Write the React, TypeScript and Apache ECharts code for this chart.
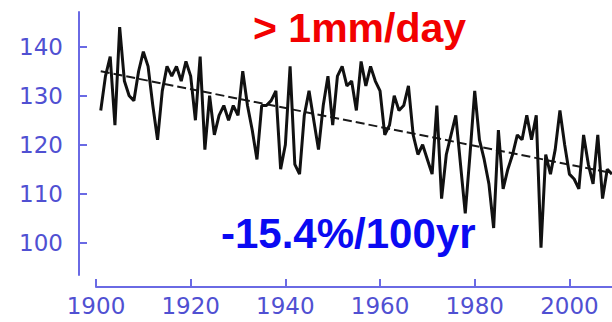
import React, { useEffect, useRef } from "react";
import * as echarts from "echarts";

const startYear = 1901;
const values: number[] = [
  127, 134, 138, 124, 144, 133, 130, 129, 135, 139, // 1901-1910
  136, 128, 121, 131, 136, 134, 136, 133, 137, 134, // 1911-1920
  125, 138, 119, 130, 122, 126, 128, 125, 128, 126, // 1921-1930
  135, 128, 123, 117, 128, 128, 129, 131, 115, 120, // 1931-1940
  136, 116, 114, 126, 131, 125, 119, 128, 134, 124, // 1941-1950
  134, 136, 132, 133, 127, 137, 132, 136, 133, 131, // 1951-1960
  122, 124, 130, 127, 128, 132, 122, 118, 120, 117, // 1961-1970
  114, 128, 109, 118, 122, 126, 116, 106, 118, 131, // 1971-1980
  121, 117, 112, 103, 123, 111, 115, 118, 122, 121, // 1981-1990
  126, 121, 126, 99, 118, 114, 119, 127, 120, 114, // 1991-2000
  113, 111, 122, 116, 112, 122, 109, 115, 114, // 2001-2009
];
const trendYears = [1901, 2009];
const trendValues = [135, 114.2];
const yTickValues = [100, 110, 120, 130, 140];
const titleText = "> 1mm/day";
const rateText = "-15.4%/100yr";

const axisColor = "#6a6ae4";
const labelColor = "#5050d2";

export default function App() {
  const ref = useRef<HTMLDivElement>(null);
  useEffect(() => {
    if (!ref.current) return;
    const chart = echarts.init(ref.current, null, { renderer: "svg" });
    const seriesData = values.map((v, i) => [startYear + i, v]);
    const trendData = trendYears.map((y, i) => [y, trendValues[i]]);
    chart.setOption({
      animation: false,
      backgroundColor: "#ffffff",
      grid: { left: 96, right: 0, top: 12, bottom: 47, containLabel: false },
      xAxis: {
        type: "value",
        min: 1900,
        max: 2009,
        interval: 20,
        offset: 12,
        axisLine: { show: true, lineStyle: { color: axisColor, width: 2 } },
        axisTick: { show: true, inside: true, length: 8, lineStyle: { color: axisColor, width: 2 } },
        axisLabel: {
          color: labelColor,
          fontSize: 23,
          fontFamily: "DejaVu Sans",
          margin: 7,
          formatter: (v: number) => String(v),
        },
        splitLine: { show: false },
      },
      yAxis: {
        type: "value",
        min: 93.4,
        max: 147.1,
        offset: 17,
        axisLine: { show: true, lineStyle: { color: axisColor, width: 2 } },
        axisTick: {
          show: true,
          inside: true,
          length: 8,
          customValues: yTickValues,
          lineStyle: { color: axisColor, width: 2 },
        },
        axisLabel: {
          customValues: yTickValues,
          color: labelColor,
          fontSize: 23,
          fontFamily: "DejaVu Sans",
          margin: 16,
          formatter: (v: number) => String(v),
        },
        splitLine: { show: false },
      },
      series: [
        {
          type: "line",
          data: trendData,
          showSymbol: false,
          lineStyle: { color: "#1a1a1a", width: 2, type: [9, 4] },
          z: 2,
        },
        {
          type: "line",
          data: seriesData,
          showSymbol: false,
          lineStyle: { color: "#111", width: 3 },
          z: 3,
        },
      ],
      graphic: [
        {
          type: "text",
          x: 253,
          y: 28,
          style: {
            text: titleText,
            fill: "#f20000",
            font: 'bold 41px "Liberation Sans", Arial, sans-serif',
            textAlign: "left",
            textVerticalAlign: "middle",
            align: "left",
            verticalAlign: "middle",
          },
        },
        {
          type: "text",
          x: 221,
          y: 233,
          style: {
            text: rateText,
            fill: "#0a0af2",
            font: 'bold 42px "Liberation Sans", Arial, sans-serif',
            textAlign: "left",
            textVerticalAlign: "middle",
            align: "left",
            verticalAlign: "middle",
          },
        },
      ],
    });
    return () => chart.dispose();
  }, []);
  return (
    <div
      ref={ref}
      style={{ position: "fixed", left: 0, top: 0, width: 612, height: 322, background: "#fff" }}
    />
  );
}
